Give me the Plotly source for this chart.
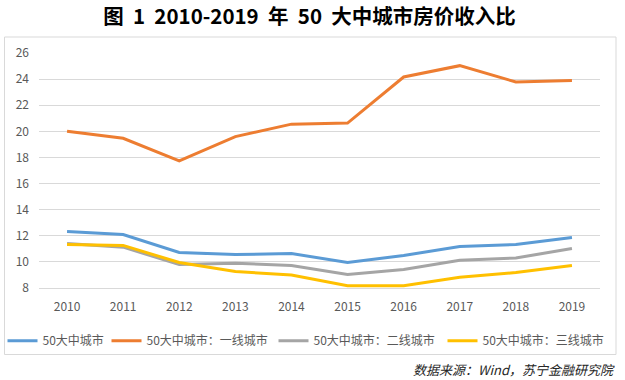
import plotly.graph_objects as go

years = ["2010", "2011", "2012", "2013", "2014", "2015", "2016", "2017", "2018", "2019"]
all50 = [12.33, 12.10, 10.72, 10.56, 10.64, 9.95, 10.49, 11.18, 11.33, 11.87]
tier1 = [20.01, 19.47, 17.73, 19.60, 20.55, 20.63, 24.16, 25.03, 23.78, 23.90]
tier2 = [11.41, 11.13, 9.80, 9.90, 9.72, 9.03, 9.41, 10.13, 10.30, 11.02]
tier3 = [11.33, 11.26, 9.95, 9.26, 9.00, 8.18, 8.18, 8.82, 9.18, 9.72]
names = ["50大中城市", "50大中城市：一线城市", "50大中城市：二线城市", "50大中城市：三线城市"]
colors = ["#5B9BD5", "#ED7D31", "#A5A5A5", "#FFC000"]
yticks = [8, 10, 12, 14, 16, 18, 20, 22, 24, 26]

FONT = "Noto Sans CJK SC, Liberation Sans, sans-serif"
W, H = 625, 380
L, R, T, B = 39, 25, 53, 92
PW, PH = W - L - R, H - T - B

def px_x(x):
    return (x - L) / PW

def px_y(y):
    return (H - B - y) / PH

legend_ids = ["legend", "legend2", "legend3", "legend4"]
legend_left = [2.5, 106.5, 273.5, 442.5]

fig = go.Figure()
for name, vals, col, lid in zip(names, [all50, tier1, tier2, tier3], colors, legend_ids):
    fig.add_trace(go.Scatter(x=years, y=vals, name=name, mode="lines",
                             line=dict(color=col, width=3), legend=lid))

legend_common = dict(orientation="h", xanchor="left", yanchor="middle",
                     xref="paper", yref="paper",
                     font=dict(family=FONT, size=12, color="#595959"),
                     bgcolor="rgba(0,0,0,0)", itemwidth=30, borderwidth=0)

layout_legends = {}
for lid, lx in zip(legend_ids, legend_left):
    layout_legends[lid] = dict(legend_common, x=px_x(lx), y=px_y(340.7))

fig.update_layout(
    width=W, height=H,
    margin=dict(l=L, r=R, t=T, b=B, autoexpand=False),
    paper_bgcolor="white", plot_bgcolor="white",
    font=dict(family=FONT, size=12, color="#595959"),
    title=dict(text="<b>图  1  2010-2019  年  50  大中城市房价收入比</b>",
               x=309.5 / W, xref="container", xanchor="center",
               y=1 - 17 / H, yref="container", yanchor="middle",
               font=dict(family=FONT, size=20.5, color="black")),
    showlegend=True,
    xaxis=dict(type="category", range=[-0.5, 9.5], showgrid=False,
               showline=True, linecolor="#D9D9D9", linewidth=1,
               ticks="", ticklabelstandoff=8, fixedrange=True,
               tickfont=dict(size=12, color="#595959")),
    yaxis=dict(range=[8, 26], tickvals=yticks, showgrid=True, gridcolor="#D9D9D9",
               gridwidth=1, zeroline=False, showline=False, ticks="",
               ticklabelstandoff=9, fixedrange=True,
               tickfont=dict(size=12, color="#595959")),
    shapes=[dict(type="rect", xref="paper", yref="paper",
                 x0=px_x(4.5), x1=px_x(616),
                 y0=px_y(354.5), y1=px_y(37),
                 line=dict(color="#D9D9D9", width=1), fillcolor="rgba(0,0,0,0)",
                 layer="below")],
    annotations=[dict(text="<i>数据来源：Wind，苏宁金融研究院</i>", xref="paper", yref="paper",
                      x=px_x(617), xanchor="right",
                      y=px_y(369), yanchor="middle", showarrow=False,
                      font=dict(family=FONT, size=13, color="#262626"))],
    **layout_legends,
)

fig.write_html("out.html", config={"displayModeBar": False},
               post_script="document.body.style.margin='0';")
